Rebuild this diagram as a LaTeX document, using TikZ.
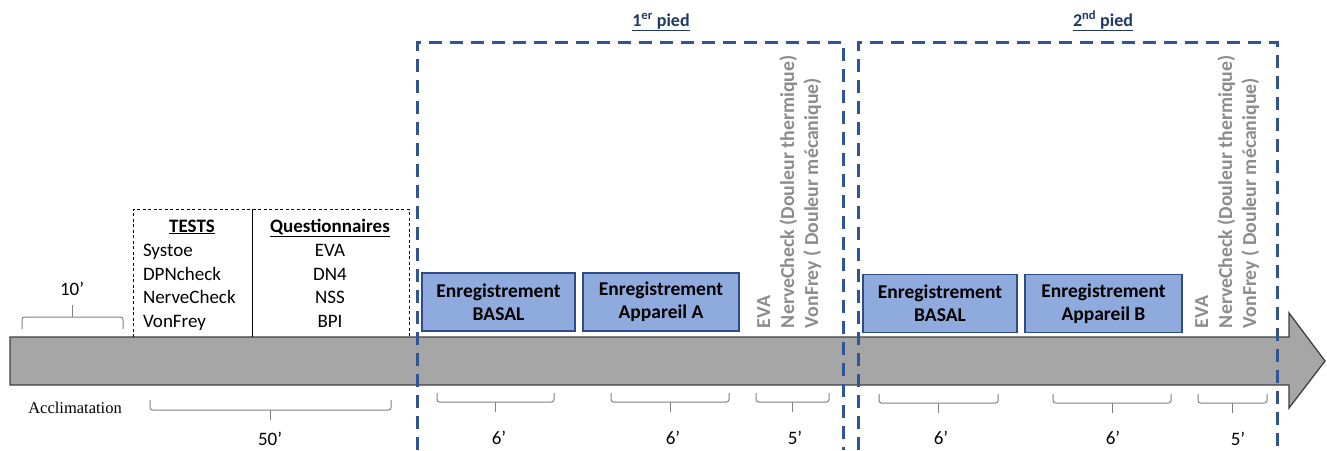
\documentclass[tikz,border=0pt]{standalone}
\usepackage{fontspec}
\setmainfont{Carlito}
\newfontfamily\serifacc{Liberation Serif}
\definecolor{arrowgray}{HTML}{A6A6A6}
\definecolor{arrowedge}{HTML}{3F3F3F}
\definecolor{dashblue}{HTML}{2F5597}
\definecolor{titleblue}{HTML}{203864}
\definecolor{boxfill}{HTML}{8FAADC}
\definecolor{boxedge}{HTML}{2E4A8A}
\definecolor{sidegray}{HTML}{8C8C8C}
\definecolor{bracegray}{HTML}{808080}
\begin{document}
\begin{tikzpicture}[x=1pt,y=-1pt,
  every node/.style={inner sep=0pt,outer sep=0pt},
  txt/.style={font=\fontsize{19}{23}\selectfont},
  hdr/.style={font=\fontsize{19}{23}\selectfont\bfseries},
  recbox/.style={draw=boxedge,fill=boxfill,line width=1.2pt,align=center,
    font=\fontsize{19.5}{23}\selectfont\bfseries,minimum height=58pt},
  sidetxt/.style={rotate=90,anchor=base west,text=sidegray,
    font=\fontsize{19.8}{23}\selectfont\bfseries},
  bracepath/.style={draw=bracegray,line width=1pt,rounded corners=2.5pt},
  bluedash/.style={draw=dashblue,line width=3pt,dash pattern=on 13pt off 8pt},
  toptitle/.style={text=titleblue,font=\fontsize{18}{22}\selectfont\bfseries},
  durlabel/.style={font=\fontsize{19}{23}\selectfont}]
\useasboundingbox (0,0) rectangle (1327,450);

% main timeline arrow
\draw[fill=arrowgray,draw=arrowedge,line width=1.3pt]
  (10,337) -- (1289,337) -- (1289,313) -- (1325,361) -- (1289,408)
  -- (1289,385) -- (10,385) -- cycle;

% tests / questionnaires box
\draw[black,line width=0.9pt,dash pattern=on 3pt off 2.5pt] (133,337) -- (133,209) -- (409,209) -- (409,337);
\draw[black,line width=0.9pt] (252,209) -- (252,337);
\node[hdr,anchor=base] (tests) at (192,232) {\underline{TESTS}};
\node[txt,anchor=base west] (t1) at (143,256) {Systoe};
\node[txt,anchor=base west] (t2) at (143,280) {DPNcheck};
\node[txt,anchor=base west] (t3) at (143,303) {NerveCheck};
\node[txt,anchor=base west] (t4) at (143,327) {VonFrey};
\node[hdr,anchor=base] (quest) at (330,232) {\underline{Questionnaires}};
\node[txt,anchor=base] (q1) at (330,256) {EVA};
\node[txt,anchor=base] (q2) at (330,280) {DN4};
\node[txt,anchor=base] (q3) at (330,303) {NSS};
\node[txt,anchor=base] (q4) at (330,327) {BPI};

% recording boxes
\node[recbox,minimum width=153pt] (b1) at (498.5,302) {Enregistrement\\BASAL};
\node[recbox,minimum width=156pt] (b2) at (661,302) {Enregistrement\\Appareil A};
\node[recbox,minimum width=154pt] (b3) at (940,303.5) {Enregistrement\\BASAL};
\node[recbox,minimum width=157pt] (b4) at (1103.5,303.5) {Enregistrement\\Appareil B};

% rotated evaluation labels
\node[sidetxt] (e1) at (770,328) {EVA};
\node[sidetxt] (e2) at (794,328) {NerveCheck (Douleur thermique)};
\node[sidetxt] (e3) at (818,328) {VonFrey ( Douleur mécanique)};
\node[sidetxt] (f1) at (1208,328) {EVA};
\node[sidetxt] (f2) at (1232,328) {NerveCheck (Douleur thermique)};
\node[sidetxt] (f3) at (1256,328) {VonFrey ( Douleur mécanique)};

% blue dashed frames
\draw[bluedash] (417,450) -- (417,42) -- (843,42) -- (843,450);
\draw[bluedash] (858,450) -- (858,42) -- (1277,42) -- (1277,450);
\node[toptitle,anchor=base] (p1) at (661,26) {\underline{1\textsuperscript{er} pied}};
\node[toptitle,anchor=base] (p2) at (1103,26) {\underline{2\textsuperscript{nd} pied}};

% braces
\draw[bracepath] (22,329) -- (22,317) -- (123,317) -- (123,329);
\draw[bracepath] (72.5,317) -- (72.5,305);
\node[durlabel] (d10) at (72,289) {10’};
\node[font=\serifacc\fontsize{16.5}{19}\selectfont] (accl) at (75,408) {Acclimatation};

\draw[bracepath] (150,400) -- (150,410) -- (391,410) -- (391,400);
\draw[bracepath] (270.5,410) -- (270.5,420);
\node[durlabel] (d50) at (270,439) {50’};

\draw[bracepath] (437,393) -- (437,402) -- (554,402) -- (554,393);
\draw[bracepath] (495.5,402) -- (495.5,412);
\node[durlabel] (d6a) at (499,438) {6’};
\draw[bracepath] (611,393) -- (611,402) -- (729,402) -- (729,393);
\draw[bracepath] (670,402) -- (670,412);
\node[durlabel] (d6b) at (673,438) {6’};
\draw[bracepath] (756,393) -- (756,402) -- (829,402) -- (829,393);
\draw[bracepath] (792.5,402) -- (792.5,412);
\node[durlabel] (d5a) at (795,438) {5’};

\draw[bracepath] (879,394) -- (879,403) -- (998,403) -- (998,394);
\draw[bracepath] (938.5,403) -- (938.5,413);
\node[durlabel] (d6c) at (941,438) {6’};
\draw[bracepath] (1053,394) -- (1053,403) -- (1171,403) -- (1171,394);
\draw[bracepath] (1112,403) -- (1112,413);
\node[durlabel] (d6d) at (1113,438) {6’};
\draw[bracepath] (1198,394) -- (1198,403) -- (1267,403) -- (1267,394);
\draw[bracepath] (1232.5,403) -- (1232.5,413);
\node[durlabel] (d5b) at (1238,439) {5’};
\end{tikzpicture}
\end{document}
